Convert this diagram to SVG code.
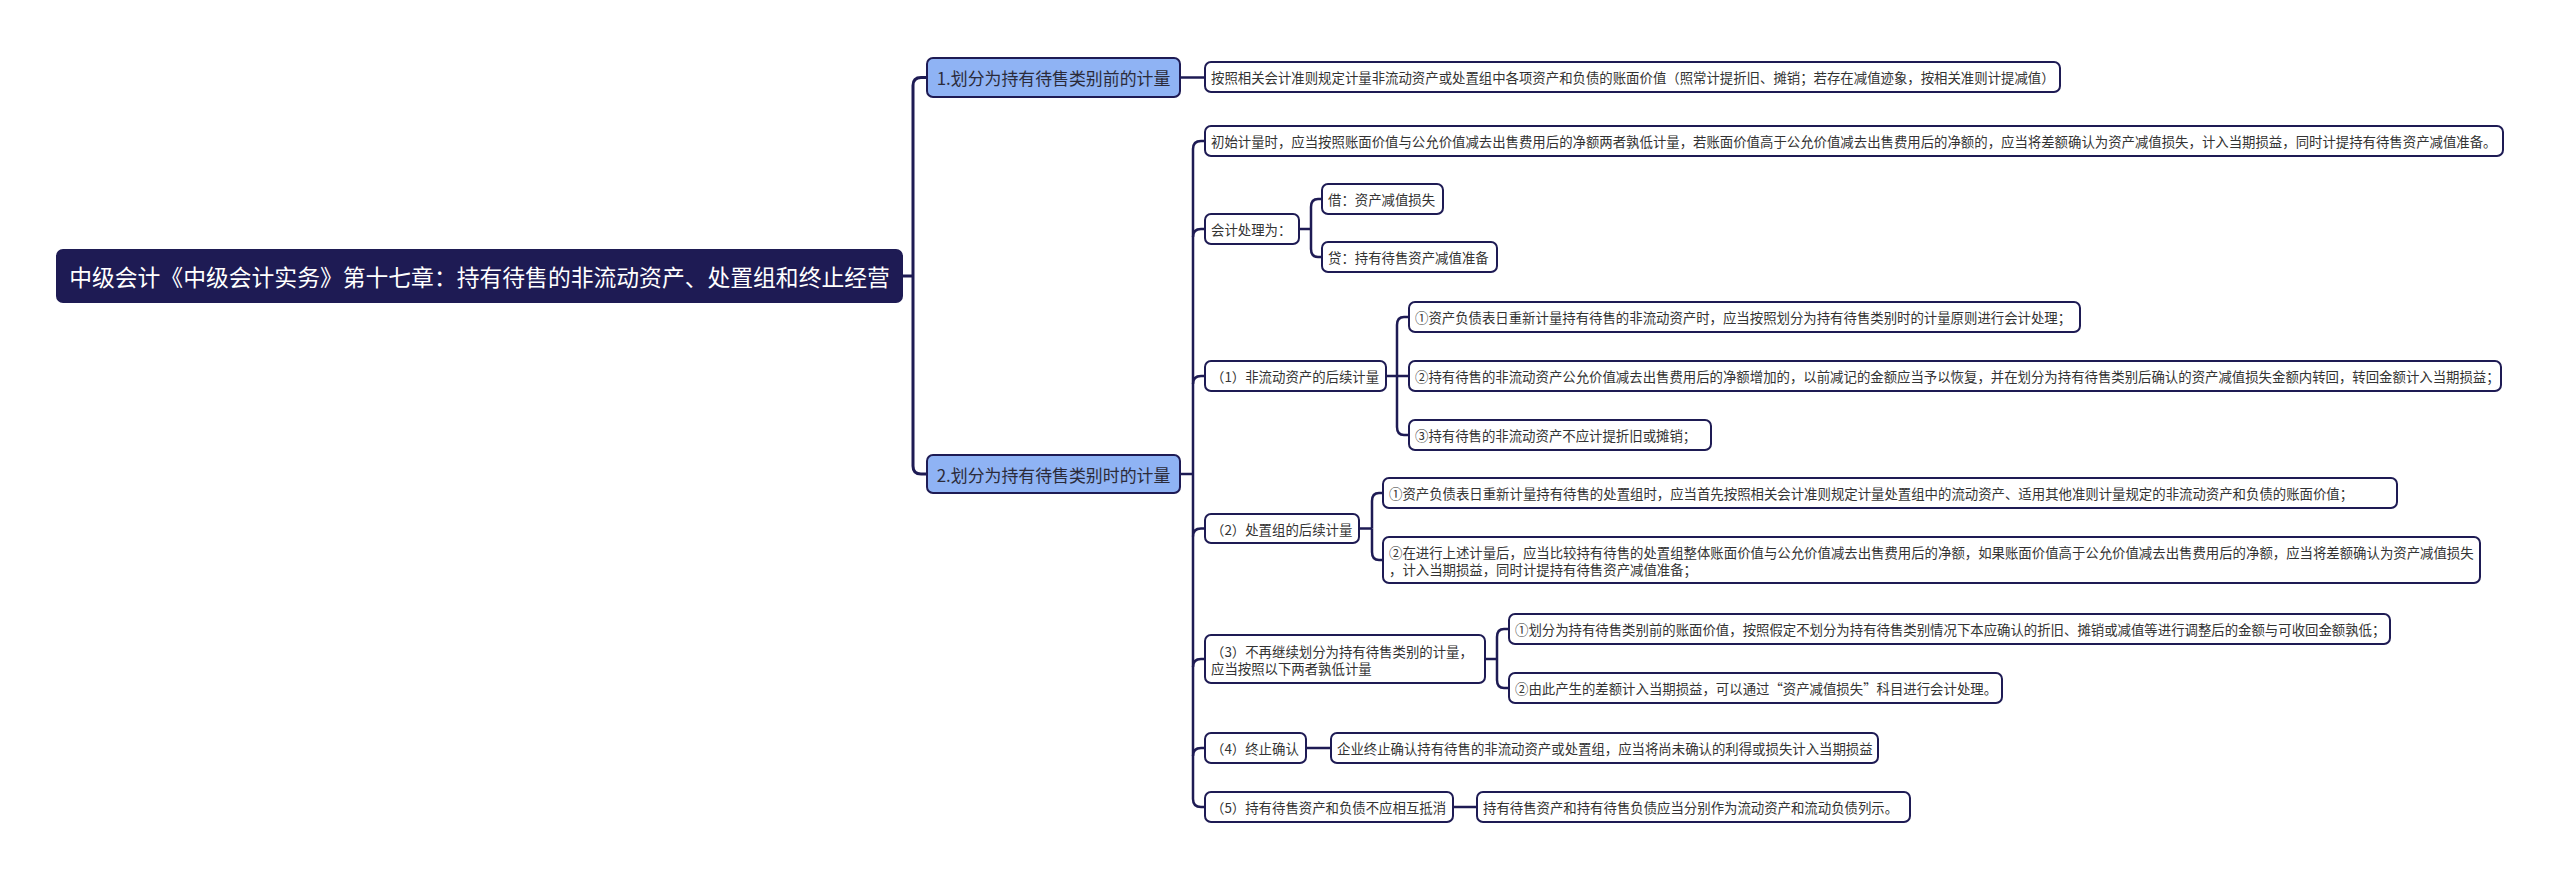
<svg xmlns="http://www.w3.org/2000/svg" width="2560" height="879" viewBox="0 0 2560 879">
<style>
text{font-family:"Noto Sans CJK SC","Microsoft YaHei",sans-serif;dominant-baseline:central;}
.leaf rect{fill:#ffffff;stroke:#1e1b54;stroke-width:2;}
.leaf text{font-size:13.4px;fill:#333333;}
.main rect{fill:#8fb3f4;stroke:#1e1b54;stroke-width:2;}
.main text{font-size:16.9px;fill:#2b2b3a;}
.root rect{fill:#1e1b54;stroke:#1e1b54;stroke-width:2;}
.root text{font-size:22.8px;fill:#ffffff;}
.c path{fill:none;stroke:#1e1b54;stroke-width:2.5;}
.c path.thick{stroke-width:3;}
</style>
<rect width="2560" height="879" fill="#ffffff"/>
<g class="c" id="connectors">
<path class="thick" d="M902,276 H913"/>
<path class="thick" d="M913,276 V85.5 Q913,77.5 921,77.5 H927"/>
<path class="thick" d="M913,276 V466 Q913,474 921,474 H927"/>
<path d="M1180,77.5 H1205"/>
<path d="M1180,474 H1193"/>
<path d="M1193,474 V149 Q1193,141 1201,141 H1205"/>
<path d="M1193,474 V799 Q1193,807 1201,807 H1205"/>
<path d="M1193,237 Q1193,229 1201,229 H1205"/>
<path d="M1193,384 Q1193,376 1201,376 H1205"/>
<path d="M1193,536.5 Q1193,528.5 1201,528.5 H1205"/>
<path d="M1193,667 Q1193,659 1201,659 H1205"/>
<path d="M1193,756 Q1193,748 1201,748 H1205"/>
<path d="M1299,229 H1311"/>
<path d="M1311,229 V207 Q1311,199 1318,199 H1322"/>
<path d="M1311,229 V249 Q1311,257 1318,257 H1322"/>
<path d="M1386,376 H1409"/>
<path d="M1397,376 V325 Q1397,317 1404,317 H1409"/>
<path d="M1397,376 V427 Q1397,435 1404,435 H1409"/>
<path d="M1359,528.5 H1372"/>
<path d="M1372,528.5 V501 Q1372,493 1379,493 H1383"/>
<path d="M1372,528.5 V552 Q1372,560 1379,560 H1383"/>
<path d="M1485,659 H1497"/>
<path d="M1497,659 V637 Q1497,629 1504,629 H1509"/>
<path d="M1497,659 V680 Q1497,688 1504,688 H1509"/>
<path d="M1306,748 H1331"/>
<path d="M1453,807 H1477"/>
</g>
<g class="root" id="root"><rect x="57" y="250" width="845" height="52" rx="6"/><text x="479.5" y="276" text-anchor="middle">中级会计《中级会计实务》第十七章：持有待售的非流动资产、处置组和终止经营</text></g>
<g class="main" id="n1"><rect x="927" y="58" width="253" height="39" rx="6"/><text x="1053.5" y="77.5" text-anchor="middle">1.划分为持有待售类别前的计量</text></g>
<g class="main" id="n2"><rect x="927" y="455" width="253" height="38" rx="6"/><text x="1053.5" y="474" text-anchor="middle">2.划分为持有待售类别时的计量</text></g>
<g class="leaf" id="n1a"><rect x="1205" y="62" width="855" height="30" rx="6"/><text x="1211" y="77">按照相关会计准则规定计量非流动资产或处置组中各项资产和负债的账面价值（照常计提折旧、摊销；若存在减值迹象，按相关准则计提减值）</text></g>
<g class="leaf" id="n2a"><rect x="1205" y="126" width="1298" height="30" rx="6"/><text x="1211" y="141">初始计量时，应当按照账面价值与公允价值减去出售费用后的净额两者孰低计量，若账面价值高于公允价值减去出售费用后的净额的，应当将差额确认为资产减值损失，计入当期损益，同时计提持有待售资产减值准备。</text></g>
<g class="leaf" id="n2b"><rect x="1205" y="214" width="94" height="30" rx="6"/><text x="1211" y="229">会计处理为：</text></g>
<g class="leaf" id="n2b1"><rect x="1322" y="184" width="121" height="30" rx="6"/><text x="1328" y="199">借：资产减值损失</text></g>
<g class="leaf" id="n2b2"><rect x="1322" y="242" width="175" height="30" rx="6"/><text x="1328" y="257">贷：持有待售资产减值准备</text></g>
<g class="leaf" id="n2c"><rect x="1205" y="361" width="181" height="30" rx="6"/><text x="1211" y="376">（1）非流动资产的后续计量</text></g>
<g class="leaf" id="n2c1"><rect x="1409" y="302" width="671" height="30" rx="6"/><text x="1415" y="317">①资产负债表日重新计量持有待售的非流动资产时，应当按照划分为持有待售类别时的计量原则进行会计处理；</text></g>
<g class="leaf" id="n2c2"><rect x="1409" y="361" width="1092" height="30" rx="6"/><text x="1415" y="376">②持有待售的非流动资产公允价值减去出售费用后的净额增加的，以前减记的金额应当予以恢复，并在划分为持有待售类别后确认的资产减值损失金额内转回，转回金额计入当期损益；</text></g>
<g class="leaf" id="n2c3"><rect x="1409" y="420" width="302" height="30" rx="6"/><text x="1415" y="435">③持有待售的非流动资产不应计提折旧或摊销；</text></g>
<g class="leaf" id="n2d"><rect x="1205" y="514" width="154" height="29" rx="6"/><text x="1211" y="528.5">（2）处置组的后续计量</text></g>
<g class="leaf" id="n2d1"><rect x="1383" y="478" width="1014" height="30" rx="6"/><text x="1389" y="493">①资产负债表日重新计量持有待售的处置组时，应当首先按照相关会计准则规定计量处置组中的流动资产、适用其他准则计量规定的非流动资产和负债的账面价值；</text></g>
<g class="leaf" id="n2d2"><rect x="1383" y="537" width="1097" height="46" rx="6"/><text x="1389" y="551.5">②在进行上述计量后，应当比较持有待售的处置组整体账面价值与公允价值减去出售费用后的净额，如果账面价值高于公允价值减去出售费用后的净额，应当将差额确认为资产减值损失</text><text x="1389" y="568.5">，计入当期损益，同时计提持有待售资产减值准备；</text></g>
<g class="leaf" id="n2e"><rect x="1205" y="635" width="280" height="48" rx="6"/><text x="1211" y="650.5">（3）不再继续划分为持有待售类别的计量，</text><text x="1211" y="668">应当按照以下两者孰低计量</text></g>
<g class="leaf" id="n2e1"><rect x="1509" y="614" width="881" height="30" rx="6"/><text x="1515" y="629">①划分为持有待售类别前的账面价值，按照假定不划分为持有待售类别情况下本应确认的折旧、摊销或减值等进行调整后的金额与可收回金额孰低；</text></g>
<g class="leaf" id="n2e2"><rect x="1509" y="673" width="493" height="30" rx="6"/><text x="1515" y="688">②由此产生的差额计入当期损益，可以通过“资产减值损失”科目进行会计处理。</text></g>
<g class="leaf" id="n2f"><rect x="1205" y="733" width="101" height="30" rx="6"/><text x="1211" y="748">（4）终止确认</text></g>
<g class="leaf" id="n2f1"><rect x="1331" y="733" width="547" height="30" rx="6"/><text x="1337" y="748">企业终止确认持有待售的非流动资产或处置组，应当将尚未确认的利得或损失计入当期损益</text></g>
<g class="leaf" id="n2g"><rect x="1205" y="792" width="248" height="30" rx="6"/><text x="1211" y="807">（5）持有待售资产和负债不应相互抵消</text></g>
<g class="leaf" id="n2g1"><rect x="1477" y="792" width="433" height="30" rx="6"/><text x="1483" y="807">持有待售资产和持有待售负债应当分别作为流动资产和流动负债列示。</text></g>
</svg>
